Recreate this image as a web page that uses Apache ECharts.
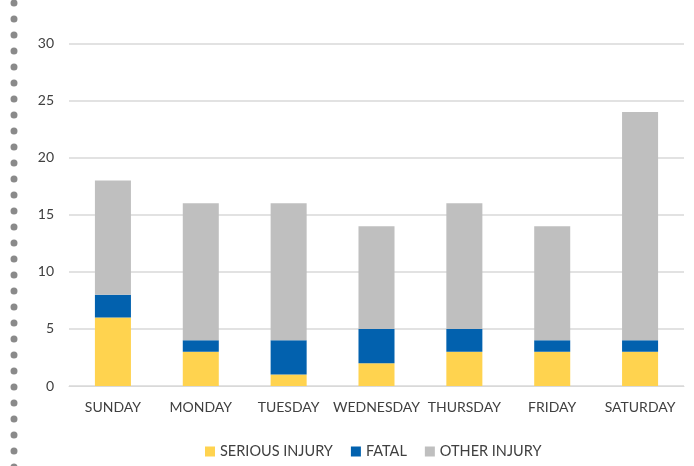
<!DOCTYPE html>
<html>
<head>
<meta charset="utf-8">
<script src="https://cdn.jsdelivr.net/npm/echarts@6/dist/echarts.min.js"></script>
<style>
  html, body { margin: 0; padding: 0; background: #fff; }
  #chart { width: 694px; height: 466px; }
</style>
</head>
<body>
<div id="chart"></div>
<script>
const days = ['SUNDAY', 'MONDAY', 'TUESDAY', 'WEDNESDAY', 'THURSDAY', 'FRIDAY', 'SATURDAY'];
const serious = [6, 3, 1, 2, 3, 3, 3];
const fatal = [2, 1, 3, 3, 2, 1, 1];
const other = [10, 12, 12, 9, 11, 10, 20];

const font = 'Lato, "Open Sans", sans-serif';
const textColor = '#404040';

const chart = echarts.init(document.getElementById('chart'));

function bar(name, data, color) {
  return {
    name: name,
    type: 'bar',
    stack: 'total',
    data: data,
    barWidth: '41%',
    itemStyle: { color: color },
    emphasis: { disabled: true },
  };
}

chart.setOption({
  animation: false,
  textStyle: { fontFamily: font },
  grid: { left: 69, right: 10, top: 43.5, bottom: 80 },
  legend: {
    bottom: 2,
    left: 200,
    itemWidth: 10,
    itemHeight: 10,
    itemGap: 18,
    icon: 'rect',
    textStyle: { color: textColor, fontSize: 14.5, fontFamily: font },
    data: ['SERIOUS INJURY', 'FATAL', 'OTHER INJURY'],
  },
  xAxis: {
    type: 'category',
    data: days,
    axisLine: { lineStyle: { color: '#d9d9d9' } },
    axisTick: { show: false },
    axisLabel: { color: textColor, fontSize: 14, margin: 14, interval: 0 },
  },
  yAxis: {
    type: 'value',
    min: 0,
    max: 30,
    interval: 5,
    axisLine: { show: false },
    axisTick: { show: false },
    axisLabel: { color: textColor, fontSize: 14, margin: 15 },
    splitLine: { lineStyle: { color: '#d9d9d9', width: 1.5 } },
  },
  graphic: [{
    type: 'line',
    shape: { x1: 14, y1: 3, x2: 14, y2: 470 },
    style: { stroke: '#8a8a8a', lineWidth: 7, lineDash: [0, 16], lineCap: 'round' },
    silent: true,
  }],
  series: [
    bar('SERIOUS INJURY', serious, '#FFD34F'),
    bar('FATAL', fatal, '#0261AE'),
    bar('OTHER INJURY', other, '#BFBFBF'),
  ],
});
</script>
</body>
</html>
